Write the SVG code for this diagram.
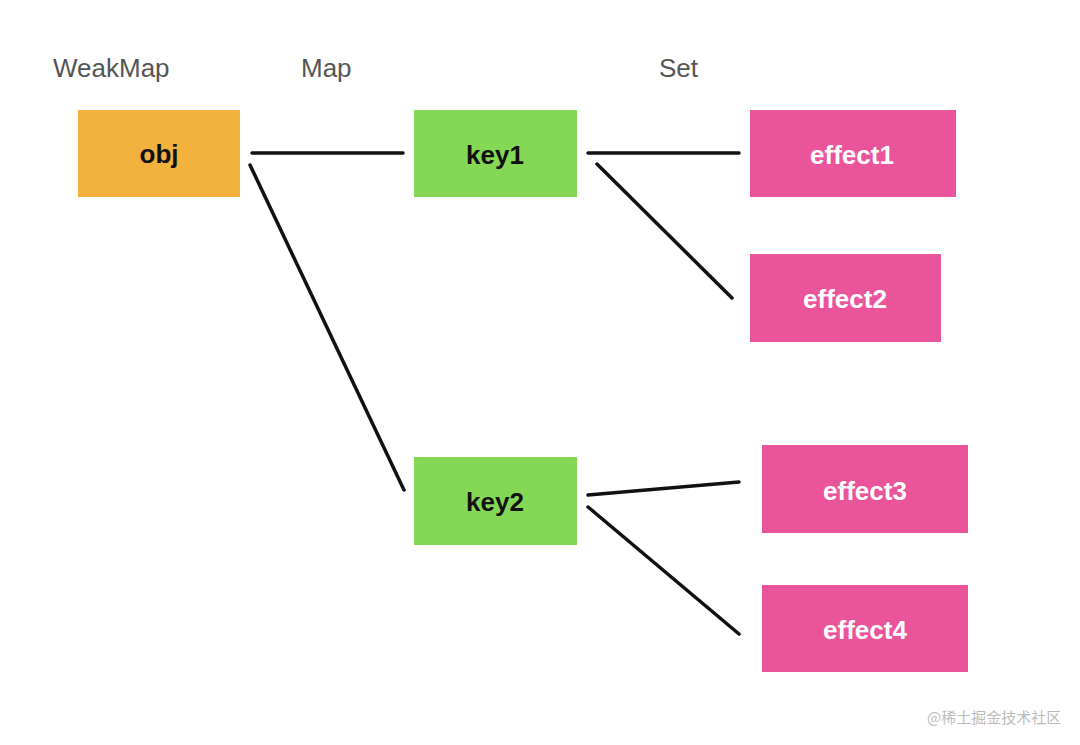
<svg xmlns="http://www.w3.org/2000/svg" width="1080" height="745" viewBox="0 0 1080 745">
<style>
.lbl{font-family:"Liberation Sans",Arial,sans-serif;font-size:26px;fill:#555}
.nt{font-family:"Liberation Sans",Arial,sans-serif;font-size:26px;font-weight:bold;text-anchor:middle;dominant-baseline:central}
.dark{fill:#111}
.light{fill:#fff}
.obj{fill:#F3B13D}
.key{fill:#84D856}
.eff{fill:#EA549B}
.ln{stroke:#111;stroke-width:3.5;stroke-linecap:round;fill:none}
.wm{font-family:"Noto Sans CJK SC","Liberation Sans",sans-serif;font-size:15px;fill:#bbb}
</style>
<rect width="1080" height="745" fill="#fff"/>
<text class="lbl" x="53" y="77">WeakMap</text>
<text class="lbl" x="301" y="77">Map</text>
<text class="lbl" x="659" y="77">Set</text>
<g id="connectors">
<line class="ln" x1="252" y1="153" x2="403" y2="153"/>
<line class="ln" x1="250" y1="165" x2="404" y2="490"/>
<line class="ln" x1="588" y1="153" x2="739" y2="153"/>
<line class="ln" x1="597" y1="164" x2="732" y2="298"/>
<line class="ln" x1="588" y1="495" x2="739" y2="482"/>
<line class="ln" x1="588" y1="507" x2="739" y2="634"/>
</g>
<g id="obj"><rect class="obj" x="78" y="110" width="162" height="87"/><text class="nt dark" x="159" y="154">obj</text></g>
<g id="key1"><rect class="key" x="414" y="110" width="163" height="87"/><text class="nt dark" x="495" y="155">key1</text></g>
<g id="key2"><rect class="key" x="414" y="457" width="163" height="88"/><text class="nt dark" x="495" y="502">key2</text></g>
<g id="effect1"><rect class="eff" x="750" y="110" width="206" height="87"/><text class="nt light" x="852" y="155">effect1</text></g>
<g id="effect2"><rect class="eff" x="750" y="254" width="191" height="88"/><text class="nt light" x="845" y="299">effect2</text></g>
<g id="effect3"><rect class="eff" x="762" y="445" width="206" height="88"/><text class="nt light" x="865" y="491">effect3</text></g>
<g id="effect4"><rect class="eff" x="762" y="585" width="206" height="87"/><text class="nt light" x="865" y="630">effect4</text></g>
<text class="wm" x="927" y="723">@稀土掘金技术社区</text>
</svg>
